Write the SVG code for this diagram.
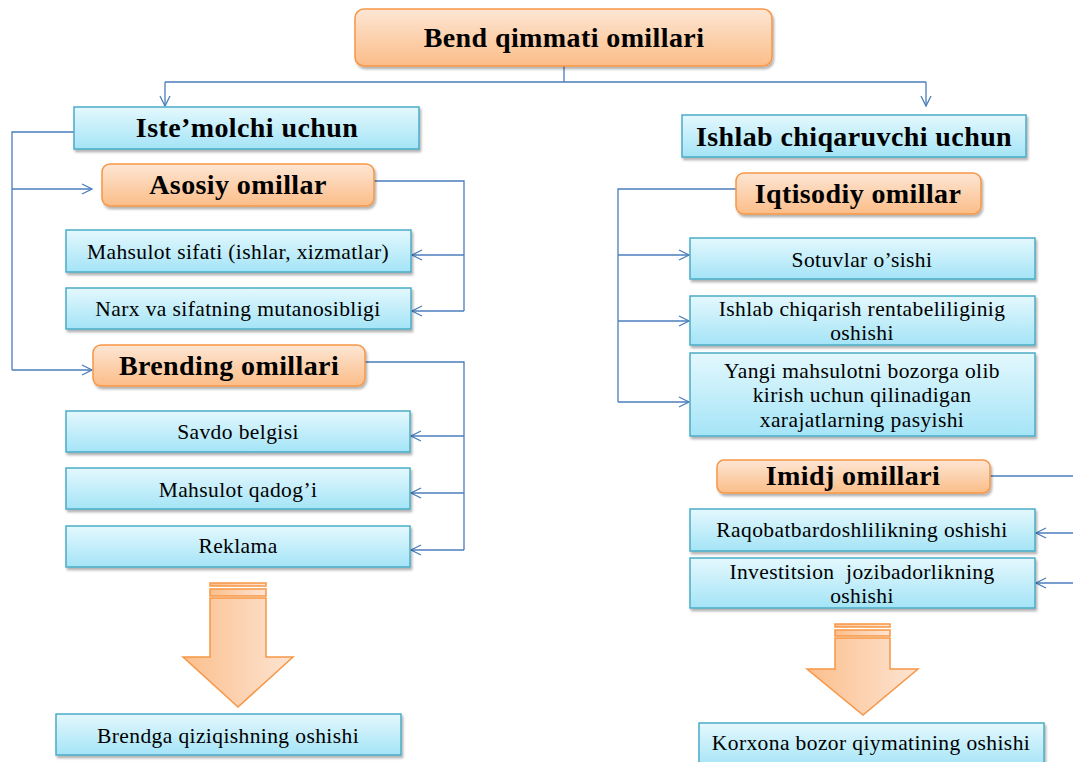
<svg xmlns="http://www.w3.org/2000/svg" width="1073" height="762" viewBox="0 0 1073 762">
<defs>
<linearGradient id="gb" x1="0" y1="0" x2="0" y2="1"><stop offset="0" stop-color="#e4f8fd"/><stop offset="1" stop-color="#a4e4f7"/></linearGradient>
<linearGradient id="go" x1="0" y1="0" x2="0" y2="1"><stop offset="0" stop-color="#fde6d4"/><stop offset="1" stop-color="#fbbd88"/></linearGradient>
<linearGradient id="ga" x1="0" y1="0" x2="1" y2="0"><stop offset="0" stop-color="#fbbf8d"/><stop offset="1" stop-color="#fde4d2"/></linearGradient>
<filter id="sh" x="-10%" y="-20%" width="120%" height="150%"><feDropShadow dx="1.5" dy="2.5" stdDeviation="1.2" flood-color="#000" flood-opacity="0.3"/></filter>
<marker id="ar" markerUnits="userSpaceOnUse" markerWidth="14" markerHeight="14" viewBox="-12 -7 14 14" refX="0" refY="0" orient="auto"><path d="M-10,-5 L0,0 L-10,5" fill="none" stroke="#4a7ebb" stroke-width="1.3"/></marker>
</defs>
<style>
.b{fill:url(#gb);stroke:#4bacc6;stroke-width:1.5;filter:url(#sh)}
.o{fill:url(#go);stroke:#f79646;stroke-width:1.5;filter:url(#sh)}
.c{fill:none;stroke:#4a7ebb;stroke-width:1.3}
.a{marker-end:url(#ar)}
.t{font-family:"Liberation Serif","Times New Roman",serif;font-size:21.5px;letter-spacing:0.4px;fill:#000;text-anchor:middle}
.h{font-family:"Liberation Serif","Times New Roman",serif;font-size:28px;letter-spacing:0.4px;font-weight:bold;fill:#000;text-anchor:middle}
.big{fill:url(#ga);stroke:#f79646;stroke-width:1.5}
.pre{white-space:pre}
</style>
<rect width="1073" height="762" fill="#fff"/>
<g id="connectors">
<path class="c" d="M564,66 V82 M165,82 H926"/>
<path class="c a" d="M165,82 V106"/>
<path class="c a" d="M926,82 V106"/>
<path class="c" d="M74,132 H12 V370"/>
<path class="c a" d="M12,189 H92"/>
<path class="c a" d="M12,370 H92"/>
<path class="c" d="M374,181 H464 V311"/>
<path class="c a" d="M464,255 H412"/>
<path class="c a" d="M464,311 H412"/>
<path class="c" d="M365,362 H464 V550"/>
<path class="c a" d="M464,436 H411"/>
<path class="c a" d="M464,493 H411"/>
<path class="c a" d="M464,550 H411"/>
<path class="c" d="M736,189 H618 V402"/>
<path class="c a" d="M618,255 H689"/>
<path class="c a" d="M618,321 H689"/>
<path class="c a" d="M618,402 H689"/>
<path class="c" d="M990,476 H1073"/>
<path class="c a" d="M1073,533 H1036"/>
<path class="c a" d="M1073,583 H1036"/>
</g>
<g id="n-root"><rect class="o" x="355" y="9" width="417" height="57" rx="9"/><text class="h" x="564" y="47">Bend qimmati omillari</text></g>
<g id="n-istemolchi"><rect class="b" x="74" y="107" width="345" height="42"/><text class="h" x="247" y="137">Iste’molchi uchun</text></g>
<g id="n-asosiy"><rect class="o" x="102" y="164" width="272" height="42" rx="8"/><text class="h" x="238" y="194">Asosiy omillar</text></g>
<g id="n-sifat"><rect class="b" x="66" y="230" width="345" height="42"/><text class="t" x="238" y="259">Mahsulot sifati (ishlar, xizmatlar)</text></g>
<g id="n-narx"><rect class="b" x="66" y="288" width="345" height="41"/><text class="t" x="238" y="316">Narx va sifatning mutanosibligi</text></g>
<g id="n-brending"><rect class="o" x="93" y="345" width="272" height="41" rx="8"/><text class="h" x="229" y="375">Brending omillari</text></g>
<g id="n-savdo"><rect class="b" x="66" y="411" width="344" height="41"/><text class="t" x="238" y="439">Savdo belgisi</text></g>
<g id="n-qadog"><rect class="b" x="66" y="468" width="344" height="41"/><text class="t" x="238" y="497">Mahsulot qadog’i</text></g>
<g id="n-reklama"><rect class="b" x="66" y="526" width="344" height="41"/><text class="t" x="238" y="553">Reklama</text></g>
<g id="arrow-left"><rect class="big" x="210" y="583" width="56" height="3"/><rect class="big" x="210" y="589" width="56" height="7"/><path class="big" d="M210,598 H266 V657 H293 L238,707 L183,657 H210 Z"/></g>
<g id="n-brendga"><rect class="b" x="56" y="714" width="345" height="41"/><text class="t" x="228" y="743">Brendga qiziqishning oshishi</text></g>
<g id="n-ishlab"><rect class="b" x="682" y="115" width="344" height="42"/><text class="h" x="854" y="146">Ishlab chiqaruvchi uchun</text></g>
<g id="n-iqtisodiy"><rect class="o" x="736" y="173" width="245" height="41" rx="8"/><text class="h" x="858" y="203">Iqtisodiy omillar</text></g>
<g id="n-sotuv"><rect class="b" x="690" y="238" width="345" height="41"/><text class="t" x="862" y="267">Sotuvlar o’sishi</text></g>
<g id="n-renta"><rect class="b" x="690" y="296" width="345" height="49"/><text class="t" x="862" y="316">Ishlab chiqarish rentabeliliginig</text><text class="t" x="862" y="340">oshishi</text></g>
<g id="n-yangi"><rect class="b" x="690" y="353" width="345" height="83"/><text class="t" x="862" y="378">Yangi mahsulotni bozorga olib</text><text class="t" x="862" y="402">kirish uchun qilinadigan</text><text class="t" x="862" y="427">xarajatlarning pasyishi</text></g>
<g id="n-imidj"><rect class="o" x="717" y="460" width="273" height="33" rx="7"/><text class="h" x="853" y="485">Imidj omillari</text></g>
<g id="n-raqobat"><rect class="b" x="690" y="509" width="345" height="42"/><text class="t" x="862" y="537">Raqobatbardoshlilikning oshishi</text></g>
<g id="n-invest"><rect class="b" x="690" y="558" width="345" height="50"/><text class="t pre" x="862" y="579">Investitsion  jozibadorlikning</text><text class="t" x="862" y="603">oshishi</text></g>
<g id="arrow-right"><rect class="big" x="835" y="624" width="55" height="3"/><rect class="big" x="835" y="630" width="55" height="6"/><path class="big" d="M835,638 H890 V669 H918 L863,715 L807,669 H835 Z"/></g>
<g id="n-korxona"><rect class="b" x="699" y="723" width="345" height="45"/><text class="t" x="871" y="750">Korxona bozor qiymatining oshishi</text></g>
</svg>
